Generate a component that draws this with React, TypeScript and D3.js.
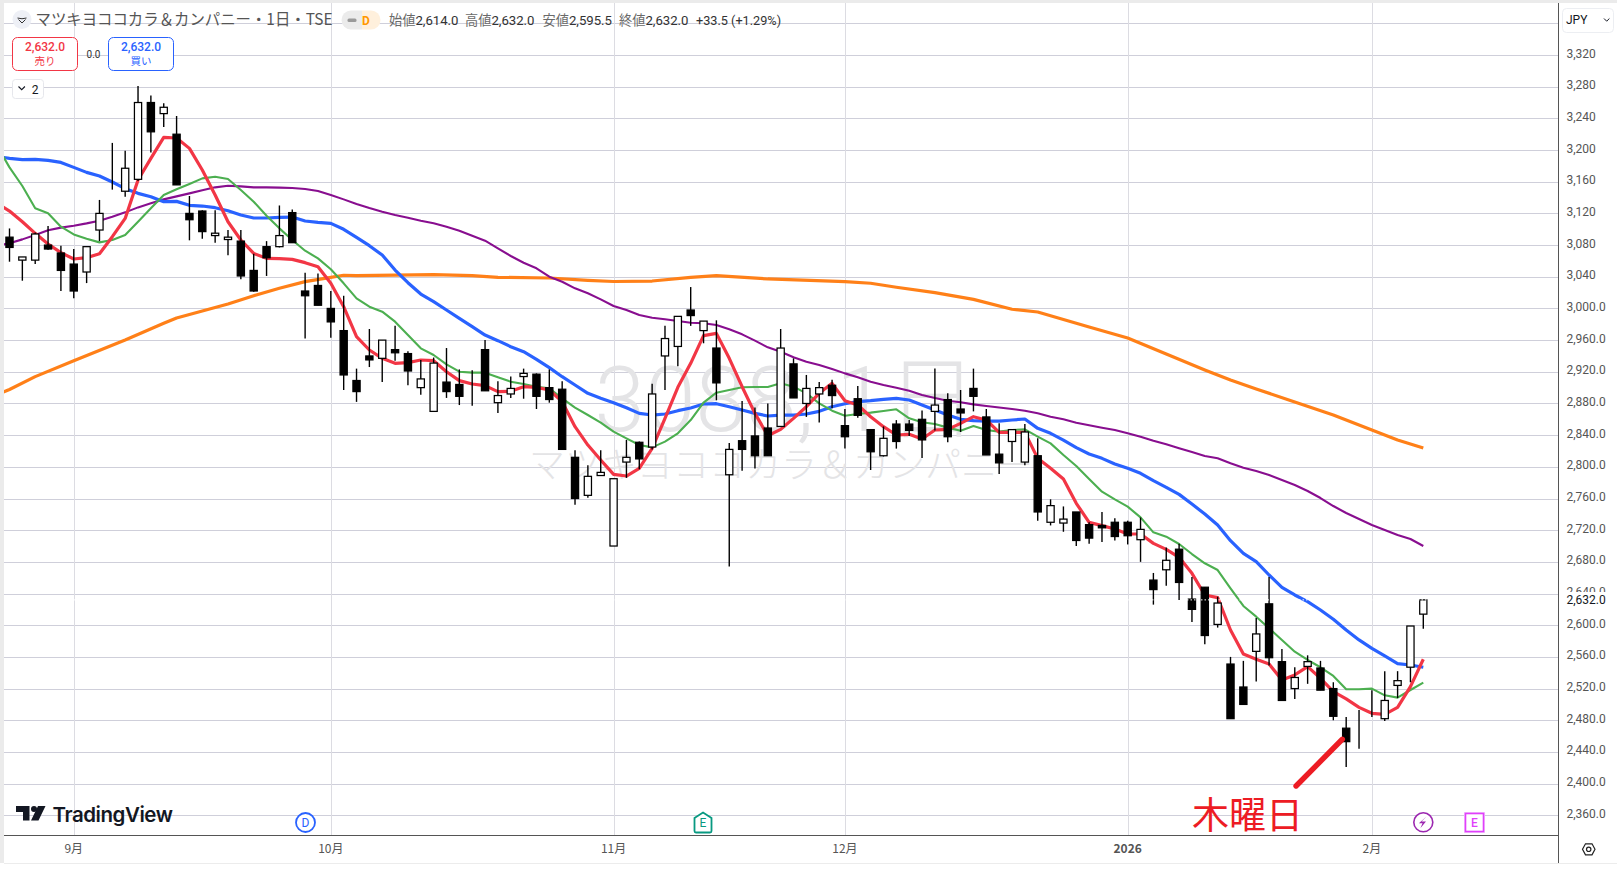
import React from "react";
import * as d3 from "d3";

const opens = [
  3090,3061,3061,3080,3070,3056,3046,3099,3163,3148,
  3163,3260,3246,3220,3120,3123,3092,3087,3085,3048,
  3078,3078,3121,3022,3029,3000,2972,2909,2940,2937,
  2948,2943,2900,2870,2907,2904,2899,2948,2881,2892,
  2914,2917,2900,2898,2812,2764,2789,2700,2806,2831,
  2825,2940,2952,2998,2972,2950,2790,2833,2839,2849,
  2851,2930,2880,2892,2903,2852,2886,2847,2814,2854,
  2854,2860,2870,2885,2873,2899,2863,2816,2832,2806,
  2814,2730,2729,2743,2727,2726,2730,2730,2708,2657,
  2670,2696,2633,2648,2601,2551,2522,2567,2627,2554,
  2520,2548,2546,2520,2470,2479,2511,2482,2524,2547,
  2614,
];
const highs = [
  3101,3065,3096,3104,3079,3075,3078,3137,3209,3199,
  3281,3269,3259,3243,3142,3124,3124,3099,3099,3069,
  3085,3130,3125,3045,3044,3022,3016,2924,2974,2960,
  2978,2946,2935,2938,2950,2923,2922,2960,2908,2914,
  2924,2918,2923,2908,2821,2802,2821,2785,2834,2832,
  2905,2978,2990,3027,2984,2985,2830,2883,2875,2880,
  2974,2937,2916,2907,2910,2873,2902,2847,2851,2859,
  2859,2871,2924,2893,2897,2924,2873,2855,2847,2854,
  2836,2759,2750,2743,2730,2743,2735,2732,2736,2666,
  2698,2703,2661,2648,2636,2560,2555,2609,2661,2570,
  2547,2562,2555,2528,2484,2493,2518,2542,2542,2599,
  2632,
];
const lows = [
  3059,3035,3056,3074,3022,3013,3032,3085,3150,3141,
  3161,3197,3229,3156,3086,3088,3083,3067,3037,3021,
  3041,3077,3083,2962,3004,2963,2897,2882,2926,2907,
  2934,2903,2891,2870,2887,2878,2877,2896,2868,2887,
  2886,2873,2881,2822,2752,2761,2789,2700,2786,2797,
  2822,2897,2927,2978,2956,2884,2674,2795,2798,2814,
  2851,2887,2863,2856,2874,2823,2862,2796,2813,2823,
  2839,2811,2846,2831,2844,2870,2815,2791,2806,2802,
  2732,2726,2718,2700,2703,2705,2707,2702,2680,2626,
  2650,2632,2604,2576,2597,2482,2500,2529,2549,2505,
  2507,2526,2518,2480,2421,2444,2484,2479,2508,2528,
  2595.5,
];
const closes = [
  3077,3065,3094,3075,3048,3022,3078,3120,3163,3177,
  3260,3223,3254,3156,3112,3097,3095,3090,3041,3022,
  3064,3092,3083,3016,3004,2983,2916,2895,2935,2960,
  2944,2921,2911,2931,2895,2889,2899,2896,2890,2899,
  2918,2889,2885,2822,2760,2788,2793,2785,2812,2810,
  2892,2962,2990,2991,2984,2906,2822,2822,2814,2814,
  2950,2887,2899,2900,2890,2838,2865,2819,2836,2832,
  2846,2834,2878,2838,2868,2889,2815,2805,2847,2844,
  2743,2751,2734,2707,2710,2723,2712,2713,2721,2645,
  2682,2654,2620,2587,2628,2482,2500,2589,2559,2505,
  2534,2554,2518,2485,2453,2479,2511,2505,2530,2599,
  2632,
];

// moving averages: first value belongs to the bar just left of the visible pane (bar -1)
const redMA = [
  3132.7,3123,3109.5,3094.8,3081.3,3070.4,3062.4,3064.1,3069.1,3090.6,3113.7,
  3162.1,3189.5,3216,3215.2,3202.1,3174.8,3143.2,3109.5,3086.4,3069.5,
  3063.2,3062.8,3062,3057.8,3052.7,3031.7,3002.2,2964.3,2947.5,2937,
  2930.7,2931.5,2934.9,2934,2920.1,2908.8,2904.6,2902.5,2894.9,2895.3,
  2901.2,2900.4,2897,2882.3,2850.7,2827.5,2808.6,2790.5,2788.4,2798.1,
  2823.3,2861.2,2900.4,2930.7,2965.6,2968.5,2937,2901.2,2867.5,2839.3,
  2847.3,2861.2,2875.9,2892.8,2905.4,2883.5,2878,2863.3,2850.7,2840.2,
  2841,2835.1,2846.5,2847.3,2854.9,2863.3,2859.1,2843.5,2843.5,2843.5,
  2810.7,2798.1,2784.6,2753.9,2729.9,2725.7,2721.5,2715.2,2715.2,2703.4,
  2695.8,2685.7,2665.5,2638.2,2634.8,2594,2563.7,2557,2551.1,2530.9,
  2537.2,2547.7,2533,2516.1,2506.9,2496.3,2488.8,2487.5,2496.3,2522.4,
  2557,
];
const greenMA = [
  3206.3,3178.1,3154.6,3126.4,3120.1,3103.2,3093.5,3088.1,3083.4,3086.4,3092.7,
  3109.5,3126.4,3143.2,3150.4,3157.1,3164.2,3166.3,3163.4,3149.5,3134.8,
  3117.1,3101.1,3086.4,3072.9,3063.2,3049.4,3031.7,3012.7,3002.2,2995.9,
  2983.3,2966.4,2949.6,2941.2,2929.4,2920.1,2918.9,2918.9,2913,2907.5,
  2904.6,2901.2,2899.1,2886.5,2874.7,2865.4,2855.7,2844.4,2836,2827.5,
  2824.6,2831.8,2842.3,2859.1,2881,2893.6,2897,2900.4,2900.8,2900.8,
  2905.4,2901.2,2892.8,2880.2,2870.9,2864.6,2866.7,2868.4,2870.5,2872.6,
  2861.2,2856.2,2854.1,2849.5,2845.6,2851.5,2846.5,2844.4,2846.5,2847.3,
  2838.1,2829.6,2814.9,2801,2784.6,2768.6,2758.9,2749.7,2736.2,2717.3,
  2711.8,2702.6,2689.9,2678.2,2669.7,2646.6,2624.3,2610.8,2596.1,2581.4,
  2566.6,2556.1,2546.9,2535.9,2519.1,2519.1,2519.9,2511.5,2508.6,2518.2,
  2527.5,
];
const blueMA = [
  3192,3189.5,3187.8,3188.2,3187,3184.4,3178.1,3171.8,3167.2,3159.6,3151.2,
  3145.3,3141.1,3134.8,3135.2,3130.2,3129.3,3127.2,3123.4,3117.9,3114.2,
  3114.2,3115,3115.4,3110.4,3108.7,3107.4,3099.9,3089.7,3079.2,3067.4,
  3048.5,3032.5,3018.2,3008.5,2998,2987.5,2977,2966.4,2959.3,2951.7,
  2945.4,2935.7,2925.2,2913.8,2903.3,2892.8,2886.5,2881,2874.7,2867.5,
  2865.4,2866.7,2870.9,2874.3,2879.3,2879.7,2875.9,2871.7,2867.5,2864.2,
  2865.4,2865.4,2866.7,2870.1,2875.9,2879.7,2882.3,2883.5,2885.2,2886.5,
  2884.4,2878,2871.7,2865.4,2860,2858.3,2857.8,2857.8,2859.1,2860.4,
  2848.6,2842.3,2833.8,2824.2,2816.2,2810.7,2803.5,2798.1,2791.8,2782.5,
  2774.1,2765.2,2753,2740.4,2726.5,2706.7,2690.7,2680.3,2663.4,2647.9,
  2638.2,2629.8,2619.2,2607.5,2594,2581.4,2570.8,2561.2,2551.5,2549.8,
  2546.9,
];
const purpleMA = [
  3079.2,3082.2,3087.2,3092.7,3098.6,3102,3104.5,3107.4,3110.8,3115.8,3121.3,
  3127.6,3132.7,3137.7,3141.5,3145.3,3149.1,3152.9,3155,3154.1,3152.9,
  3152.9,3152.5,3152,3150.8,3148.3,3143.2,3137.7,3131.8,3126.8,3122.2,
  3118,3114.6,3110.8,3107.5,3103.1,3098.1,3091.8,3085.5,3075.9,3066.2,
  3057.7,3050.7,3040.1,3033.7,3025.4,3019.1,3011.5,3003.1,2998.1,2991.7,
  2988.3,2986.3,2984.1,2982,2981.2,2979.1,2973.7,2967.3,2959.3,2950.9,
  2945.4,2938.3,2932.7,2928.6,2923.5,2918,2913,2907.4,2903.3,2899.9,
  2896.1,2890.7,2886.9,2883.5,2881.5,2878.9,2876.8,2874.9,2873,2870.9,
  2867.6,2863.3,2860,2855.7,2852.4,2849.4,2846.5,2842.3,2838,2833,
  2828.4,2823.4,2818.7,2813.7,2810.8,2804.5,2798.9,2794.7,2789.7,2783.4,
  2777,2769.5,2760.6,2750.5,2741.7,2734.1,2726.6,2720.3,2714,2708.9,
  2700,
];
const orangeBars = [-1,0,2,5,9,12,13,17,19,21,23,25,26,27,30,33,36,38,42,45,47,50,53,55,59,65,67,69,72,75,78,80,84,87,90,93,95,97,100,103,106,108,110];
const orangeMA = [2890.7,2897.7,2913.9,2934,2960.2,2981.2,2988,3005.6,3016.1,3025.4,3033.8,3039.3,3041.9,3041.4,3042,3042.6,3041.4,3039.3,3038.4,3035.5,3034,3034.6,3039.3,3041.4,3037.2,3033.8,3031.8,3026.7,3019.9,3011.5,2999,2995.5,2976.6,2962.7,2942.5,2922.3,2909.6,2898.3,2881.9,2865.5,2846.5,2833.9,2823.8];

const priceTicks = [3320,3280,3240,3200,3160,3120,3080,3040,3000,2960,2920,2880,2840,2800,2760,2720,2680,2640,2600,2560,2520,2480,2440,2400,2360];
const gridOnlyPrices = [3360];
const monthBars = [5,25,47,65,87,106];
const monthLabels = ["9月","10月","11月","12月","2026","2月"];
const arrowBars = [100.1,103.7];
const arrowPrices = [2397,2456];

const lastPrice = 2632;
const x = d3.scaleLinear().domain([0, 110]).range([9.5, 1423.3]);
const y = d3.scaleLinear().domain([2360, 3320]).range([815.3, 55]);
const L = 4, R = 1558, T = 3, B = 835;
const sans = "Roboto, 'Noto Sans CJK JP', sans-serif";
const jp = "'Noto Sans CJK JP', Roboto, sans-serif";

const maPath = d3.line<number>().x((_, i) => x(i - 1)).y((d) => y(d));
const orangePath = d3.line<number>().x((_, i) => x(orangeBars[i])).y((d) => y(d));
const fmtTick = (p: number) => (p > 3000 ? d3.format(",.0f")(p) : d3.format(",.1f")(p));

export default function App() {
  return (
    <svg width={1617} height={874} style={{ position: "fixed", left: 0, top: 0, display: "block", background: "#fff" }} fontFamily={sans}>
      <defs>
        <clipPath id="pane"><rect x={L} y={T} width={R - L} height={B - T} /></clipPath>
      </defs>
      <rect x={0} y={0} width={1617} height={3} fill="#ebebeb" />
      <rect x={0} y={0} width={4} height={863} fill="#ebebeb" />
      <rect x={4} y={863} width={1613} height={1} fill="#ececec" />

      {/* grid */}
      <g stroke="#cfcfda" strokeWidth={1}>
        {[...gridOnlyPrices, ...priceTicks].map((p) => (
          <line key={p} x1={L} x2={R} y1={Math.round(y(p)) + 0.5} y2={Math.round(y(p)) + 0.5} />
        ))}
      </g>
      <g stroke="#dcdce2" strokeWidth={1}>
        {monthBars.map((b) => (
          <line key={b} x1={Math.round(x(b)) + 0.5} x2={Math.round(x(b)) + 0.5} y1={T} y2={B} />
        ))}
      </g>

      {/* watermark */}
      <g textAnchor="middle" fill="#e4e4e6" fontWeight={300}>
        <text x={786} y={431} fontSize={91}>3088, 1日</text>
        <text x={781} y={478} fontSize={36} fontFamily={jp}>マツキヨココカラ＆カンパニー</text>
      </g>

      <g clipPath="url(#pane)" fill="none" strokeLinejoin="round">
        <path d={orangePath(orangeMA)!} stroke="#ff8018" strokeWidth={3.2} />
        <path d={maPath(purpleMA)!} stroke="#880e8f" strokeWidth={2.1} />
        <path d={maPath(blueMA)!} stroke="#2962ff" strokeWidth={3.2} />
        <path d={maPath(greenMA)!} stroke="#4caf50" strokeWidth={2.1} />
        <path d={maPath(redMA)!} stroke="#f23645" strokeWidth={3.2} />
      </g>

      {/* candles */}
      <g>
        {opens.map((o, i) => {
          const c = closes[i];
          const up = c >= o;
          const top = y(Math.max(o, c));
          const bot = y(Math.min(o, c));
          const cx = x(i);
          return (
            <g key={i}>
              <line x1={cx} x2={cx} y1={y(highs[i])} y2={y(lows[i])} stroke="#000" strokeWidth={1.4} />
              <rect x={cx - 3.6} y={top} width={7.2} height={Math.max(bot - top, 0)} fill={up ? "#fff" : "#000"} stroke="#000" strokeWidth={1.25} />
            </g>
          );
        })}
      </g>

      {/* last price line */}
      <line x1={L} x2={R} y1={y(lastPrice)} y2={y(lastPrice)} stroke="#fff" strokeWidth={1} strokeDasharray="1.5 2" />

      {/* hand-drawn annotation */}
      <line x1={x(arrowBars[0])} y1={y(arrowPrices[0])} x2={x(arrowBars[1])} y2={y(arrowPrices[1])} stroke="#ed1c24" strokeWidth={5.4} strokeLinecap="round" />
      <text x={1192} y={829} fontSize={37} fill="#ed1c24" fontFamily={jp}>木曜日</text>

      {/* axes */}
      <line x1={R + 0.5} x2={R + 0.5} y1={T} y2={863} stroke="#555" />
      <line x1={L} x2={1558} y1={835.5} y2={835.5} stroke="#555" />
      <g fontSize={12} fill="#555">
        {priceTicks.map((p) => (
          <text key={p} x={1566.5} y={y(p) + 2.5}>{fmtTick(p)}</text>
        ))}
      </g>
      <rect x={1560} y={592} width={57} height={15} fill="#fff" />
      <text x={1566.5} y={604} fontSize={12} fill="#131722">{fmtTick(lastPrice)}</text>
      <g fontSize={12} fill="#555" textAnchor="middle" fontFamily={jp}>
        {monthLabels.map((m, i) => (
          <text key={m} x={x(monthBars[i])} y={853} fontWeight={m === "2026" ? 700 : 400}>{m}</text>
        ))}
      </g>

      {/* currency button + settings */}
      <rect x={1562.5} y={8.5} width={51} height={24} rx={4} fill="#fff" stroke="#eceef2" />
      <text x={1566} y={24} fontSize={12} fill="#131722">JPY</text>
      <path d="M1604 18.5 l2.7 2.7 l2.7 -2.7" fill="none" stroke="#131722" strokeWidth={1} />
      <path d="M1582.5 849.3 l3 -5.5 h6.5 l3 5.5 l-3 5.5 h-6.5 z" fill="none" stroke="#222" strokeWidth={1.2} />
      <circle cx={1588.7} cy={849.3} r={2.2} fill="none" stroke="#222" strokeWidth={1.2} />

      {/* header */}
      <circle cx={22} cy={19.5} r={9.5} fill="#eef0f6" />
      <path d="M17.5 18 q4.5 1.5 9 0 M18.5 19.5 l3.5 3.5 l3.5 -3.5" fill="none" stroke="#333" strokeWidth={1} />
      <text x={35.5} y={25} fontSize={15.4} fill="#555" fontFamily={jp}>マツキヨココカラ＆カンパニー・1日・TSE</text>
      <path d="M351 10.5 h11 v19 h-11 a9.5 9.5 0 0 1 0 -19 z" fill="#ebebeb" />
      <path d="M362 10.5 h9 a9.5 9.5 0 0 1 0 19 h-9 z" fill="#fff0dc" />
      <rect x={347.5} y={18.5} width={9} height={3.5} rx={1.5} fill="#9a9a9a" />
      <text x={366} y={24.5} fontSize={12} fontWeight={700} fill="#ff9800" textAnchor="middle">D</text>
      <g fontSize={13.2} fill="#333">
        <text x={389} y={24.5}><tspan fill="#6a6a6a" fontFamily={jp}>始値</tspan>2,614.0</text>
        <text x={465} y={24.5}><tspan fill="#6a6a6a" fontFamily={jp}>高値</tspan>2,632.0</text>
        <text x={542.5} y={24.5}><tspan fill="#6a6a6a" fontFamily={jp}>安値</tspan>2,595.5</text>
        <text x={619} y={24.5}><tspan fill="#6a6a6a" fontFamily={jp}>終値</tspan>2,632.0</text>
      </g>
      <text x={696} y={24.5} fontSize={12.7} fill="#333">+33.5 (+1.29%)</text>

      {/* trade buttons */}
      <rect x={12.5} y={37.5} width={65} height={33} rx={5} fill="#fff" stroke="#f23645" />
      <text x={45} y={51} fontSize={12} fontWeight={500} fill="#f23645" textAnchor="middle">2,632.0</text>
      <text x={45} y={65} fontSize={10.5} fill="#f23645" textAnchor="middle" fontFamily={jp}>売り</text>
      <text x={93.5} y={57.5} fontSize={10} fill="#333" textAnchor="middle">0.0</text>
      <rect x={108.5} y={37.5} width={65} height={33} rx={5} fill="#fff" stroke="#2962ff" />
      <text x={141} y={51} fontSize={12} fontWeight={500} fill="#2962ff" textAnchor="middle">2,632.0</text>
      <text x={141} y={65} fontSize={10.5} fill="#2962ff" textAnchor="middle" fontFamily={jp}>買い</text>
      <rect x={12.5} y={79.5} width={31} height={19} rx={3} fill="#fff" stroke="#e6e7ec" />
      <path d="M18.5 86.5 l3.2 3.2 l3.2 -3.2" fill="none" stroke="#131722" strokeWidth={1.1} />
      <text x={35} y={93.5} fontSize={12} fill="#131722" textAnchor="middle">2</text>

      {/* logo */}
      <path d="M16 806 h13.5 v14.5 h-6.5 v-8.5 h-7 z M38 806 h7.5 l-7 14.5 h-7.5 z" fill="#131722" />
      <circle cx={34} cy={809} r={3} fill="#131722" />
      <text x={52.5} y={822} fontSize={20.5} fontWeight={600} fill="#131722" fontFamily="Inter, sans-serif" letterSpacing={-0.45}>TradingView</text>

      {/* events */}
      <circle cx={305.5} cy={822.5} r={9.5} fill="#fff" stroke="#2962ff" strokeWidth={1.8} />
      <text x={305.5} y={826.8} fontSize={12} fill="#2962ff" textAnchor="middle">D</text>
      <path d="M703 812.5 l8.5 5.5 v13 q0 1.5 -1.5 1.5 h-14 q-1.5 0 -1.5 -1.5 v-13 z" fill="#fff" stroke="#089981" strokeWidth={1.8} />
      <text x={703} y={827} fontSize={12} fill="#089981" textAnchor="middle">E</text>
      <circle cx={1423.3} cy={822.3} r={9.5} fill="#fff" stroke="#9c27b0" strokeWidth={1.6} />
      <path d="M1426.5 816.5 l-5 5 h4.5 l-5.5 6.5 l2 -4.8 h-3.6 z" fill="#9c27b0" />
      <rect x={1465.5} y={813.5} width={18} height={18} fill="#fff" stroke="#f3c6fb" strokeWidth={3} />
      <rect x={1465.5} y={813.5} width={18} height={18} fill="#fff" stroke="#e040fb" strokeWidth={1.6} />
      <text x={1474.5} y={827} fontSize={12} fontWeight={500} fill="#e040fb" textAnchor="middle">E</text>
    </svg>
  );
}
